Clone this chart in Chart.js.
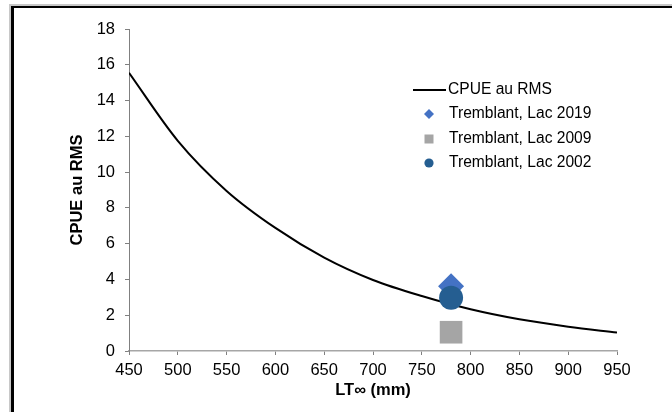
<!DOCTYPE html>
<html>
<head>
<meta charset="utf-8">
<script src="https://cdn.jsdelivr.net/npm/chart.js@4"></script>
<style>
  html, body { margin: 0; padding: 0; background: #fff; }
  #wrap { position: relative; width: 672px; height: 412px; overflow: hidden; background: #fff; }
  #outer { position: absolute; left: 9px; top: 4px; width: 700px; height: 420px;
           border-top: 2px solid #c8c8c8; border-left: 2px solid #c8c8c8; }
  #inner { position: absolute; left: 0; top: 0; width: 700px; height: 420px;
           border-top: 2px solid #000; border-left: 3px solid #000; }
  #c { position: absolute; left: 0; top: 0; }
</style>
</head>
<body>
<div id="wrap">
  <div id="outer"><div id="inner"></div></div>
  <canvas id="c" width="672" height="412"></canvas>
</div>
<script>
// ---- data ----
const lengths = [450, 500, 550, 600, 650, 700, 750, 800, 850, 900, 950];
const cpueRms = [15.55, 11.75, 8.95, 6.88, 5.22, 3.97, 3.07, 2.33, 1.77, 1.36, 1.03];
const lakeLabels = ['Tremblant, Lac 2019', 'Tremblant, Lac 2009', 'Tremblant, Lac 2002'];
const lakeLT = [780, 780, 780];
const lakeCpue = [3.62, 1.05, 2.98];
const curveLabel = 'CPUE au RMS';
const xTicks = [450, 500, 550, 600, 650, 700, 750, 800, 850, 900, 950];
const yTicks = [0, 2, 4, 6, 8, 10, 12, 14, 16, 18];

const FONT = "'Liberation Sans', Arial, sans-serif";
const lakeColors = ['#4472C4', '#A5A5A5', '#255E91'];
const lakeStyles = ['rectRot', 'rect', 'circle'];
const lakeRadius = [13, 16, 12];
const lakeOrder = [1, 2, 0];

const datasets = [{
  label: curveLabel,
  data: lengths.map((x, i) => ({x, y: cpueRms[i]})),
  showLine: true,
  borderColor: '#000',
  borderWidth: 2,
  pointRadius: 0,
  cubicInterpolationMode: 'monotone',
  order: 3
}];
lakeLabels.forEach((lab, i) => {
  datasets.push({
    label: lab,
    data: [{x: lakeLT[i], y: lakeCpue[i]}],
    pointStyle: lakeStyles[i],
    pointRadius: lakeRadius[i],
    pointBackgroundColor: lakeColors[i],
    pointBorderColor: lakeColors[i],
    pointBorderWidth: 0,
    backgroundColor: lakeColors[i],
    borderColor: lakeColors[i],
    order: lakeOrder[i]
  });
});

const legendPlugin = {
  id: 'insideLegend',
  afterDraw(chart) {
    const ctx = chart.ctx;
    ctx.save();
    ctx.font = '15.6px ' + FONT;
    ctx.fillStyle = '#000';
    ctx.textBaseline = 'middle';
    ctx.textAlign = 'left';
    const mx = 429, tx = 449;
    const rows = [90, 114, 139, 163];
    ctx.strokeStyle = '#000';
    ctx.lineWidth = 2;
    ctx.beginPath(); ctx.moveTo(413, rows[0]); ctx.lineTo(446, rows[0]); ctx.stroke();
    ctx.fillText(chart.data.datasets[0].label, 448, rows[0]);
    for (let i = 0; i < lakeLabels.length; i++) {
      const y = rows[i + 1];
      ctx.fillStyle = lakeColors[i];
      ctx.beginPath();
      if (lakeStyles[i] === 'rectRot') {
        ctx.moveTo(mx - 5, y); ctx.lineTo(mx, y - 5); ctx.lineTo(mx + 5, y); ctx.lineTo(mx, y + 5); ctx.closePath();
      } else if (lakeStyles[i] === 'rect') {
        ctx.rect(mx - 4.5, y - 4.5, 9, 9);
      } else {
        ctx.arc(mx, y, 4.6, 0, Math.PI * 2);
      }
      ctx.fill();
      ctx.fillStyle = '#000';
      ctx.fillText(chart.data.datasets[i + 1].label, tx, y);
    }
    ctx.restore();
  }
};

new Chart(document.getElementById('c'), {
  type: 'scatter',
  data: { datasets },
  plugins: [legendPlugin],
  options: {
    responsive: false,
    animation: false,
    events: [],
    layout: { padding: { left: 0, right: 55, top: 29, bottom: 0 } },
    plugins: { legend: { display: false }, tooltip: { enabled: false } },
    scales: {
      x: {
        type: 'linear',
        min: 450, max: 950,
        afterBuildTicks(s) { s.ticks = xTicks.map(v => ({value: v})); },
        afterFit(s) { s.height = 61; },
        ticks: { color: '#000', font: { family: FONT, size: 16.5 }, padding: 6, maxRotation: 0, autoSkip: false },
        grid: { drawOnChartArea: false, drawTicks: true, tickLength: 4, color: '#808080', tickWidth: 1 },
        border: { display: true, color: '#a6a6a6', width: 1.5 },
        title: { display: true, text: 'LT∞ (mm)', color: '#000',
                 font: { family: FONT, size: 16.5, weight: 'bold' }, padding: { top: 0, bottom: 12 } }
      },
      y: {
        type: 'linear',
        min: 0, max: 18,
        afterBuildTicks(s) { s.ticks = yTicks.map(v => ({value: v})); },
        afterFit(s) { s.width = 129; },
        ticks: { color: '#000', font: { family: FONT, size: 16.5 }, padding: 10, autoSkip: false },
        grid: { drawOnChartArea: false, drawTicks: true, tickLength: 4, color: '#808080', tickWidth: 1 },
        border: { display: true, color: '#808080', width: 1 },
        title: { display: true, text: 'CPUE au RMS', color: '#000',
                 font: { family: FONT, size: 16.5, weight: 'bold' }, padding: { top: 68, bottom: 0 } }
      }
    }
  }
});
</script>
</body>
</html>
